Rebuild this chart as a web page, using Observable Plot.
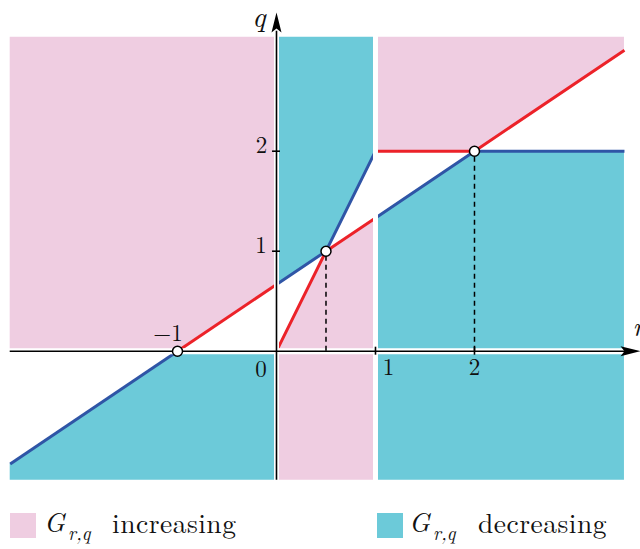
<!DOCTYPE html>
<html>
<head>
<meta charset="utf-8">
<script src="https://cdn.jsdelivr.net/npm/d3@7"></script>
<script src="https://cdn.jsdelivr.net/npm/@observablehq/plot@0.6"></script>
<style>
  html, body { margin: 0; padding: 0; background: white; }
  #wrap { width: 640px; height: 549px; overflow: hidden; }
  #wrap svg { display: block; }
</style>
</head>
<body>
<div id="wrap"></div>
<script>
// ---- data (values in r, q units) ----
const rLeftEdge = -2.69, rRightEdge = 3.515, qBottom = -1.29, qTop = 3.14;

// shaded regions: [r, lower q, upper q]
const pinkLeft   = [[-2.69, 0, 3.14], [-1, 0, 3.14], [0, 0.667, 3.14]];
const pinkMiddle = [[0, -1.29, 0], [0.5, -1.29, 1], [1, -1.29, 1.333]];
const pinkRight  = [[1, 2, 3.14], [2, 2, 3.14], [3.515, 3.01, 3.14]];
const cyanLeft   = [[-2.69, -1.29, -1.127], [-1, -1.29, 0], [0, -1.29, 0]];
const cyanMiddle = [[0, 0.667, 3.14], [0.5, 1, 3.14], [1, 2, 3.14]];
const cyanRight  = [[1, -1.29, 1.333], [2, -1.29, 2], [3.515, -1.29, 2]];

// boundary curves: [r, q]
const blueLeft   = [[-2.69, -1.127], [-1, 0]];
const redLeft    = [[-1, 0], [0, 0.667]];
const blueMiddle = [[0, 0.667], [0.5, 1], [1, 2]];
const redMiddle  = [[0, 0], [0.5, 1], [1, 1.333]];
const redRight   = [[1, 2], [2, 2], [3.515, 3.01]];
const blueRight  = [[1, 1.333], [2, 2], [3.515, 2]];

const fixedPoints = [[-1, 0], [0.5, 1], [2, 2]];
const dashedDrops = [[0.5, 1], [2, 2]];
const stripBreaks = [0, 1];
const xTicks = [1, 2];
const yTicks = [1, 2];
const xTickLabels = [
  {r: -1, label: "\u22121", dx: -9.5, dy: -18},
  {r: 0, label: "0", dx: -15.5, dy: 18},
  {r: 1, label: "1", dx: 13, dy: 16.5},
  {r: 2, label: "2", dx: 0, dy: 16.5}
];
const yTickLabels = [
  {q: 1, label: "1", dx: -15.5, dy: -6},
  {q: 2, label: "2", dx: -15, dy: -6}
];
const axisNames = ["q", "r"];
const legendLabels = ["increasing", "decreasing"];
const axisTipR = 3.677, axisTipQ = 3.387;

const PINK = "#efcde1", CYAN = "#6ccad9", RED = "#ec2229", BLUE = "#2f55a6";
const FONT = "'Latin Modern Roman', 'Liberation Serif', serif";

const reg = a => a.map(([r, lo, hi]) => ({r, lo, hi}));
const pts = a => a.map(([r, q]) => ({r, q}));

const arrowSym = {
  draw(ctx) {
    ctx.moveTo(0, -10); ctx.lineTo(5, 10); ctx.lineTo(0, 6); ctx.lineTo(-5, 10); ctx.closePath();
  }
};

const area = (d, fill) => Plot.areaY(reg(d), {x: "r", y1: "lo", y2: "hi", fill});
const curve = (d, stroke) => Plot.line(pts(d), {x: "r", y: "q", stroke, strokeWidth: 3, strokeLinecap: "butt"});

const chart = Plot.plot({
  width: 640,
  height: 500,
  margin: 0,
  x: {domain: [-2.788, 3.677], axis: null},
  y: {domain: [-1.493, 3.507], axis: null},
  style: {background: "white", fontFamily: FONT, color: "#111"},
  marks: [
    area(pinkLeft, PINK), area(pinkMiddle, PINK), area(pinkRight, PINK),
    area(cyanLeft, CYAN), area(cyanMiddle, CYAN), area(cyanRight, CYAN),
    curve(blueLeft, BLUE), curve(redLeft, RED),
    curve(blueMiddle, BLUE), curve(redMiddle, RED),
    curve(redRight, RED), curve(blueRight, BLUE),
    // white separating gaps
    Plot.ruleX(stripBreaks, {y1: qBottom - 0.05, y2: qTop + 0.05, stroke: "white", strokeWidth: 5}),
    Plot.ruleY([0], {x1: rLeftEdge - 0.1, x2: axisTipR, stroke: "white", strokeWidth: 6}),
    // axes
    Plot.ruleY([0], {x1: rLeftEdge, x2: 3.55, stroke: "black", strokeWidth: 1.6}),
    Plot.ruleX([0], {y1: qBottom, y2: 3.2, stroke: "black", strokeWidth: 1.6}),
    Plot.dot([{r: axisTipR - 0.101, q: 0}], {x: "r", y: "q", symbol: arrowSym, fill: "black", stroke: null, rotate: 90}),
    Plot.dot([{r: 0, q: axisTipQ - 0.1}], {x: "r", y: "q", symbol: arrowSym, fill: "black", stroke: null}),
    Plot.ruleX(xTicks, {y1: -0.04, y2: 0.04, stroke: "black", strokeWidth: 1.6}),
    Plot.ruleY(yTicks, {x1: -0.04, x2: 0.04, stroke: "black", strokeWidth: 1.6}),
    // dashed drops
    Plot.ruleX(pts(dashedDrops), {x: "r", y1: 0, y2: "q", stroke: "black", strokeWidth: 1.5, strokeDasharray: "5,4"}),
    Plot.dot(pts(fixedPoints), {x: "r", y: "q", r: 5, fill: "white", stroke: "black", strokeWidth: 1.5}),
    // tick labels
    ...xTickLabels.map(d => Plot.text([d], {x: "r", y: () => 0, text: "label", dx: d.dx, dy: d.dy, fontSize: 23, fill: "#111"})),
    ...yTickLabels.map(d => Plot.text([d], {x: () => 0, y: "q", text: "label", dx: d.dx, dy: d.dy, fontSize: 23, fill: "#111"})),
    // axis names
    Plot.text([axisNames[0]], {x: () => 0, y: () => axisTipQ, text: d => d, dx: -17.5, dy: 5, fontSize: 29, fontStyle: "italic", fill: "#111"}),
    Plot.text([axisNames[1]], {x: () => axisTipR, y: () => 0, text: d => d, dx: -8, dy: -24, textAnchor: "start", fontSize: 28, fontStyle: "italic", fill: "#111"})
  ]
});

const wrap = document.getElementById("wrap");
wrap.appendChild(chart);

// legend (below the plot SVG)
const leg = d3.create("svg").attr("width", 640).attr("height", 49)
  .style("font-family", FONT).style("background", "white");
const items = [
  {x: 10, fill: PINK, label: legendLabels[0], gx: 44, sx: 68, tx: 112},
  {x: 377, fill: CYAN, label: legendLabels[1], gx: 409, sx: 433, tx: 478}
];
for (const it of items) {
  leg.append("rect").attr("x", it.x).attr("y", 13).attr("width", 26).attr("height", 25).attr("fill", it.fill);
  leg.append("text").attr("x", it.gx).attr("y", 31.7).attr("font-size", 27).attr("font-style", "italic").attr("fill", "#111").text("G");
  leg.append("text").attr("x", it.sx).attr("y", 39.5).attr("font-size", 19).attr("font-style", "italic").attr("fill", "#111").text("r,q");
  leg.append("text").attr("x", it.tx).attr("y", 32.5).attr("font-size", 27.5).attr("letter-spacing", 0.5).attr("fill", "#111").text(it.label);
}
wrap.appendChild(leg.node());
</script>
</body>
</html>
